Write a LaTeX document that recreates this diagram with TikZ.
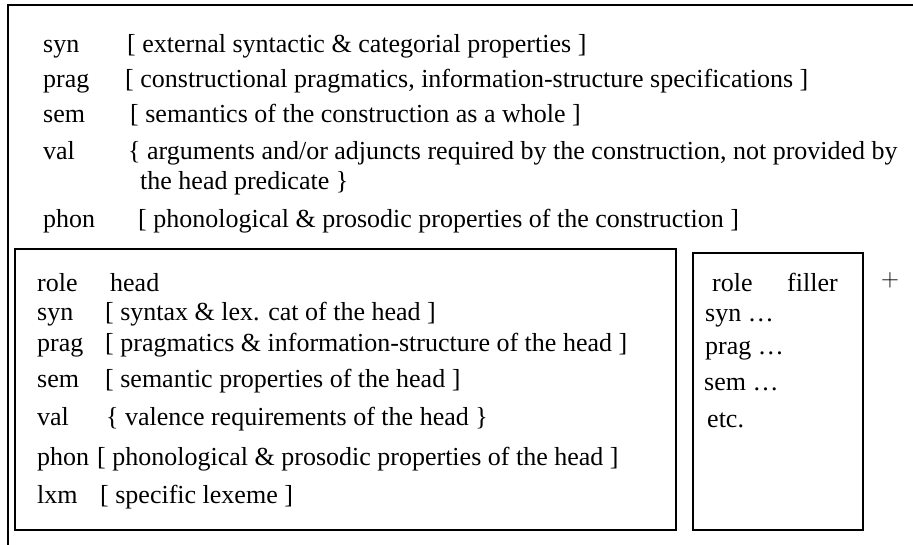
\documentclass[tikz,border=0pt]{standalone}
\usepackage{fontspec}
\setmainfont{Liberation Serif}
\usetikzlibrary{positioning}

\begin{document}
\begin{tikzpicture}[x=1pt,y=-1pt]
		\tikzstyle{every node}+=[inner sep=0pt,anchor=base west,font=\fontsize{26}{30}\selectfont]
		\useasboundingbox (0,0) rectangle (913,545);
		% outer construction frame
		\draw [black,line width=1.6pt] (913,5) -- (8,5) -- (8,545);
		\node (csyn) at (43,53) {syn};
		\node (csynv) at (127,53) {[ external syntactic \& categorial properties ]};
		\node (cprag) at (43,88) {prag};
		\node (cpragv) at (125,88) {[ constructional pragmatics, information-structure specifications ]};
		\node (csem) at (43,123) {sem};
		\node (csemv) at (130,123) {[ semantics of the construction as a whole ]};
		\node (cval) at (43,160) {val};
		\node (cvalv) at (128,160) {\{ arguments and/or adjuncts required by the construction, not provided by};
		\node (cvalw) at (140,190) {the head predicate \}};
		\node (cphon) at (43,228) {phon};
		\node (cphonv) at (138,228) {[ phonological \& prosodic properties of the construction ]};
		% head daughter
		\draw [black,line width=1.6pt] (15,249) rectangle (676,530);
		\node (hrole) at (37,292) {role};
		\node (hrolev) at (110,292) {head};
		\node (hsyn) at (37,320) {syn};
		\node (hsynv) at (105,320) {[ syntax \& lex. cat of the head ]};
		\node (hprag) at (37,352) {prag};
		\node (hpragv) at (105,352) {[ pragmatics \& information-structure of the head ]};
		\node (hsem) at (37,387) {sem};
		\node (hsemv) at (105,387) {[ semantic properties of the head ]};
		\node (hval) at (37,425) {val};
		\node (hvalv) at (106,425) {\{ valence requirements of the head \}};
		\node (hphon) at (37,465) {phon};
		\node (hphonv) at (97,465) {[ phonological \& prosodic properties of the head ]};
		\node (hlxm) at (37,503) {lxm};
		\node (hlxmv) at (100,503) {[ specific lexeme ]};
		% filler daughter
		\draw [black,line width=1.6pt] (693,253) rectangle (863,530);
		\node (frole) at (712,292) {role};
		\node (frolev) at (787,292) {filler};
		\node (fsyn) at (705,322) {syn \dots};
		\node (fprag) at (705,355) {prag \dots};
		\node (fsem) at (704,390) {sem \dots};
		\node (fetc) at (707,427) {etc.};
		\node (plus) [anchor=center,font=\fontsize{32}{36}\selectfont] at (890,280) {$+$};
\end{tikzpicture}
\end{document}
